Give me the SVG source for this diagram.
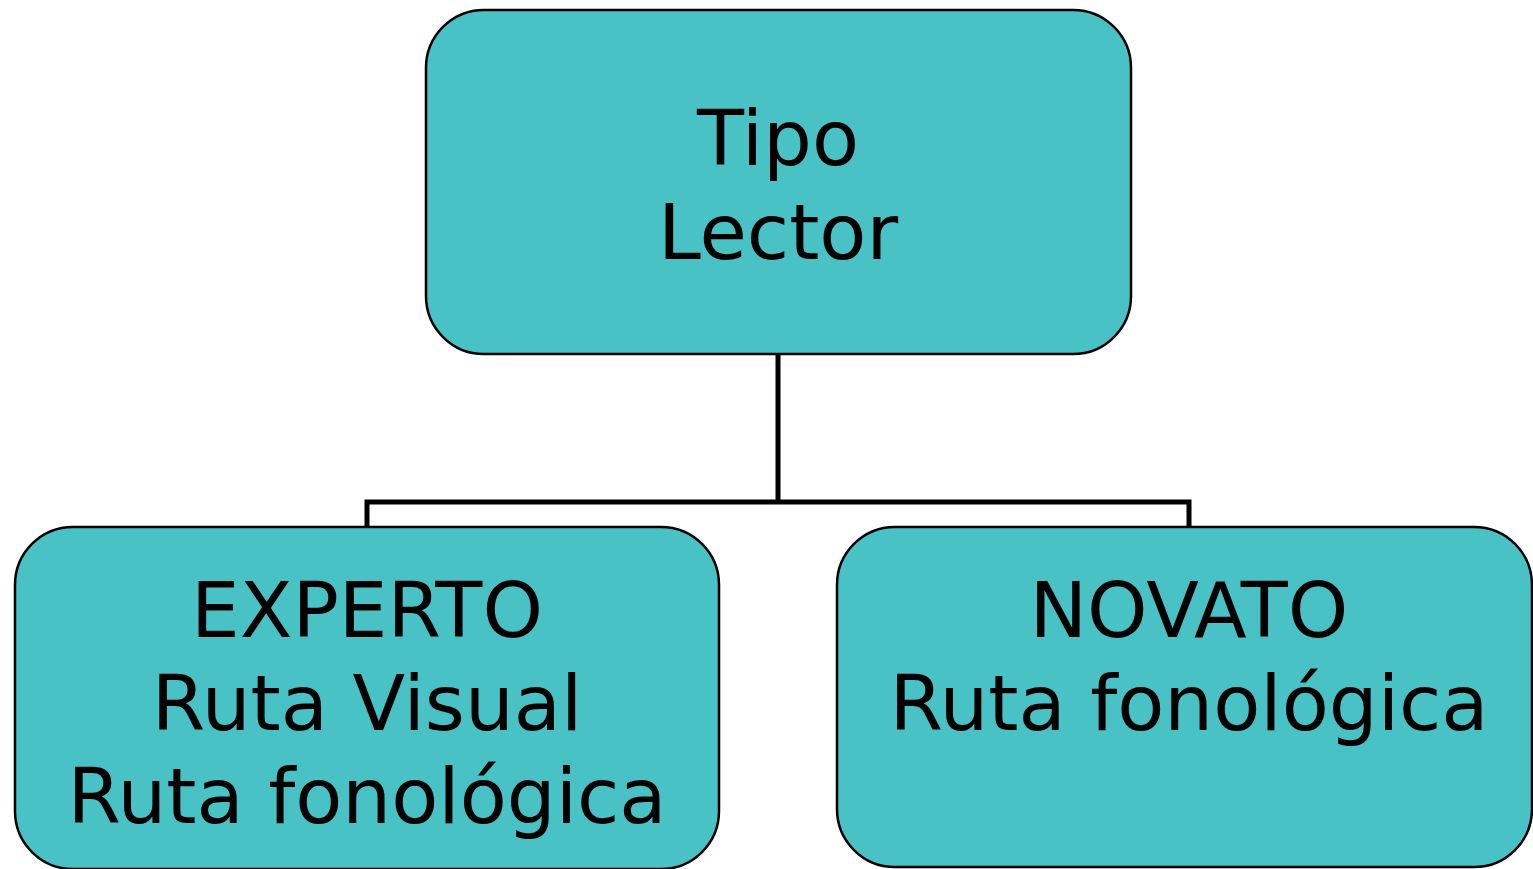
<svg xmlns="http://www.w3.org/2000/svg" width="1533" height="869" viewBox="0 0 1533 869">
<style>
.box{fill:#49C2C6;stroke:#000;stroke-width:2.5}
.t{font-family:"DejaVu Sans",Verdana,sans-serif;font-size:77px;fill:#000;text-anchor:middle}
.c{fill:none;stroke:#000;stroke-width:5}
</style>
<rect width="1533" height="869" fill="#fff"/>
<g id="connectors">
<path class="c" d="M778,354 V502"/>
<path class="c" d="M367,527 V502 H1189 V527"/>
</g>
<g id="tipo-lector">
<rect class="box" x="426" y="10" width="705" height="344" rx="58"/>
<text class="t" x="778" y="165">Tipo</text>
<text class="t" x="778" y="259">Lector</text>
</g>
<g id="experto">
<rect class="box" x="15" y="527" width="704" height="342" rx="58"/>
<text class="t" x="367" y="637">EXPERTO</text>
<text class="t" x="367" y="730">Ruta Visual</text>
<text class="t" x="367" y="823">Ruta fonológica</text>
</g>
<g id="novato">
<rect class="box" x="837" y="527" width="695" height="340" rx="58"/>
<text class="t" x="1189" y="637">NOVATO</text>
<text class="t" x="1189" y="730">Ruta fonológica</text>
</g>
</svg>
